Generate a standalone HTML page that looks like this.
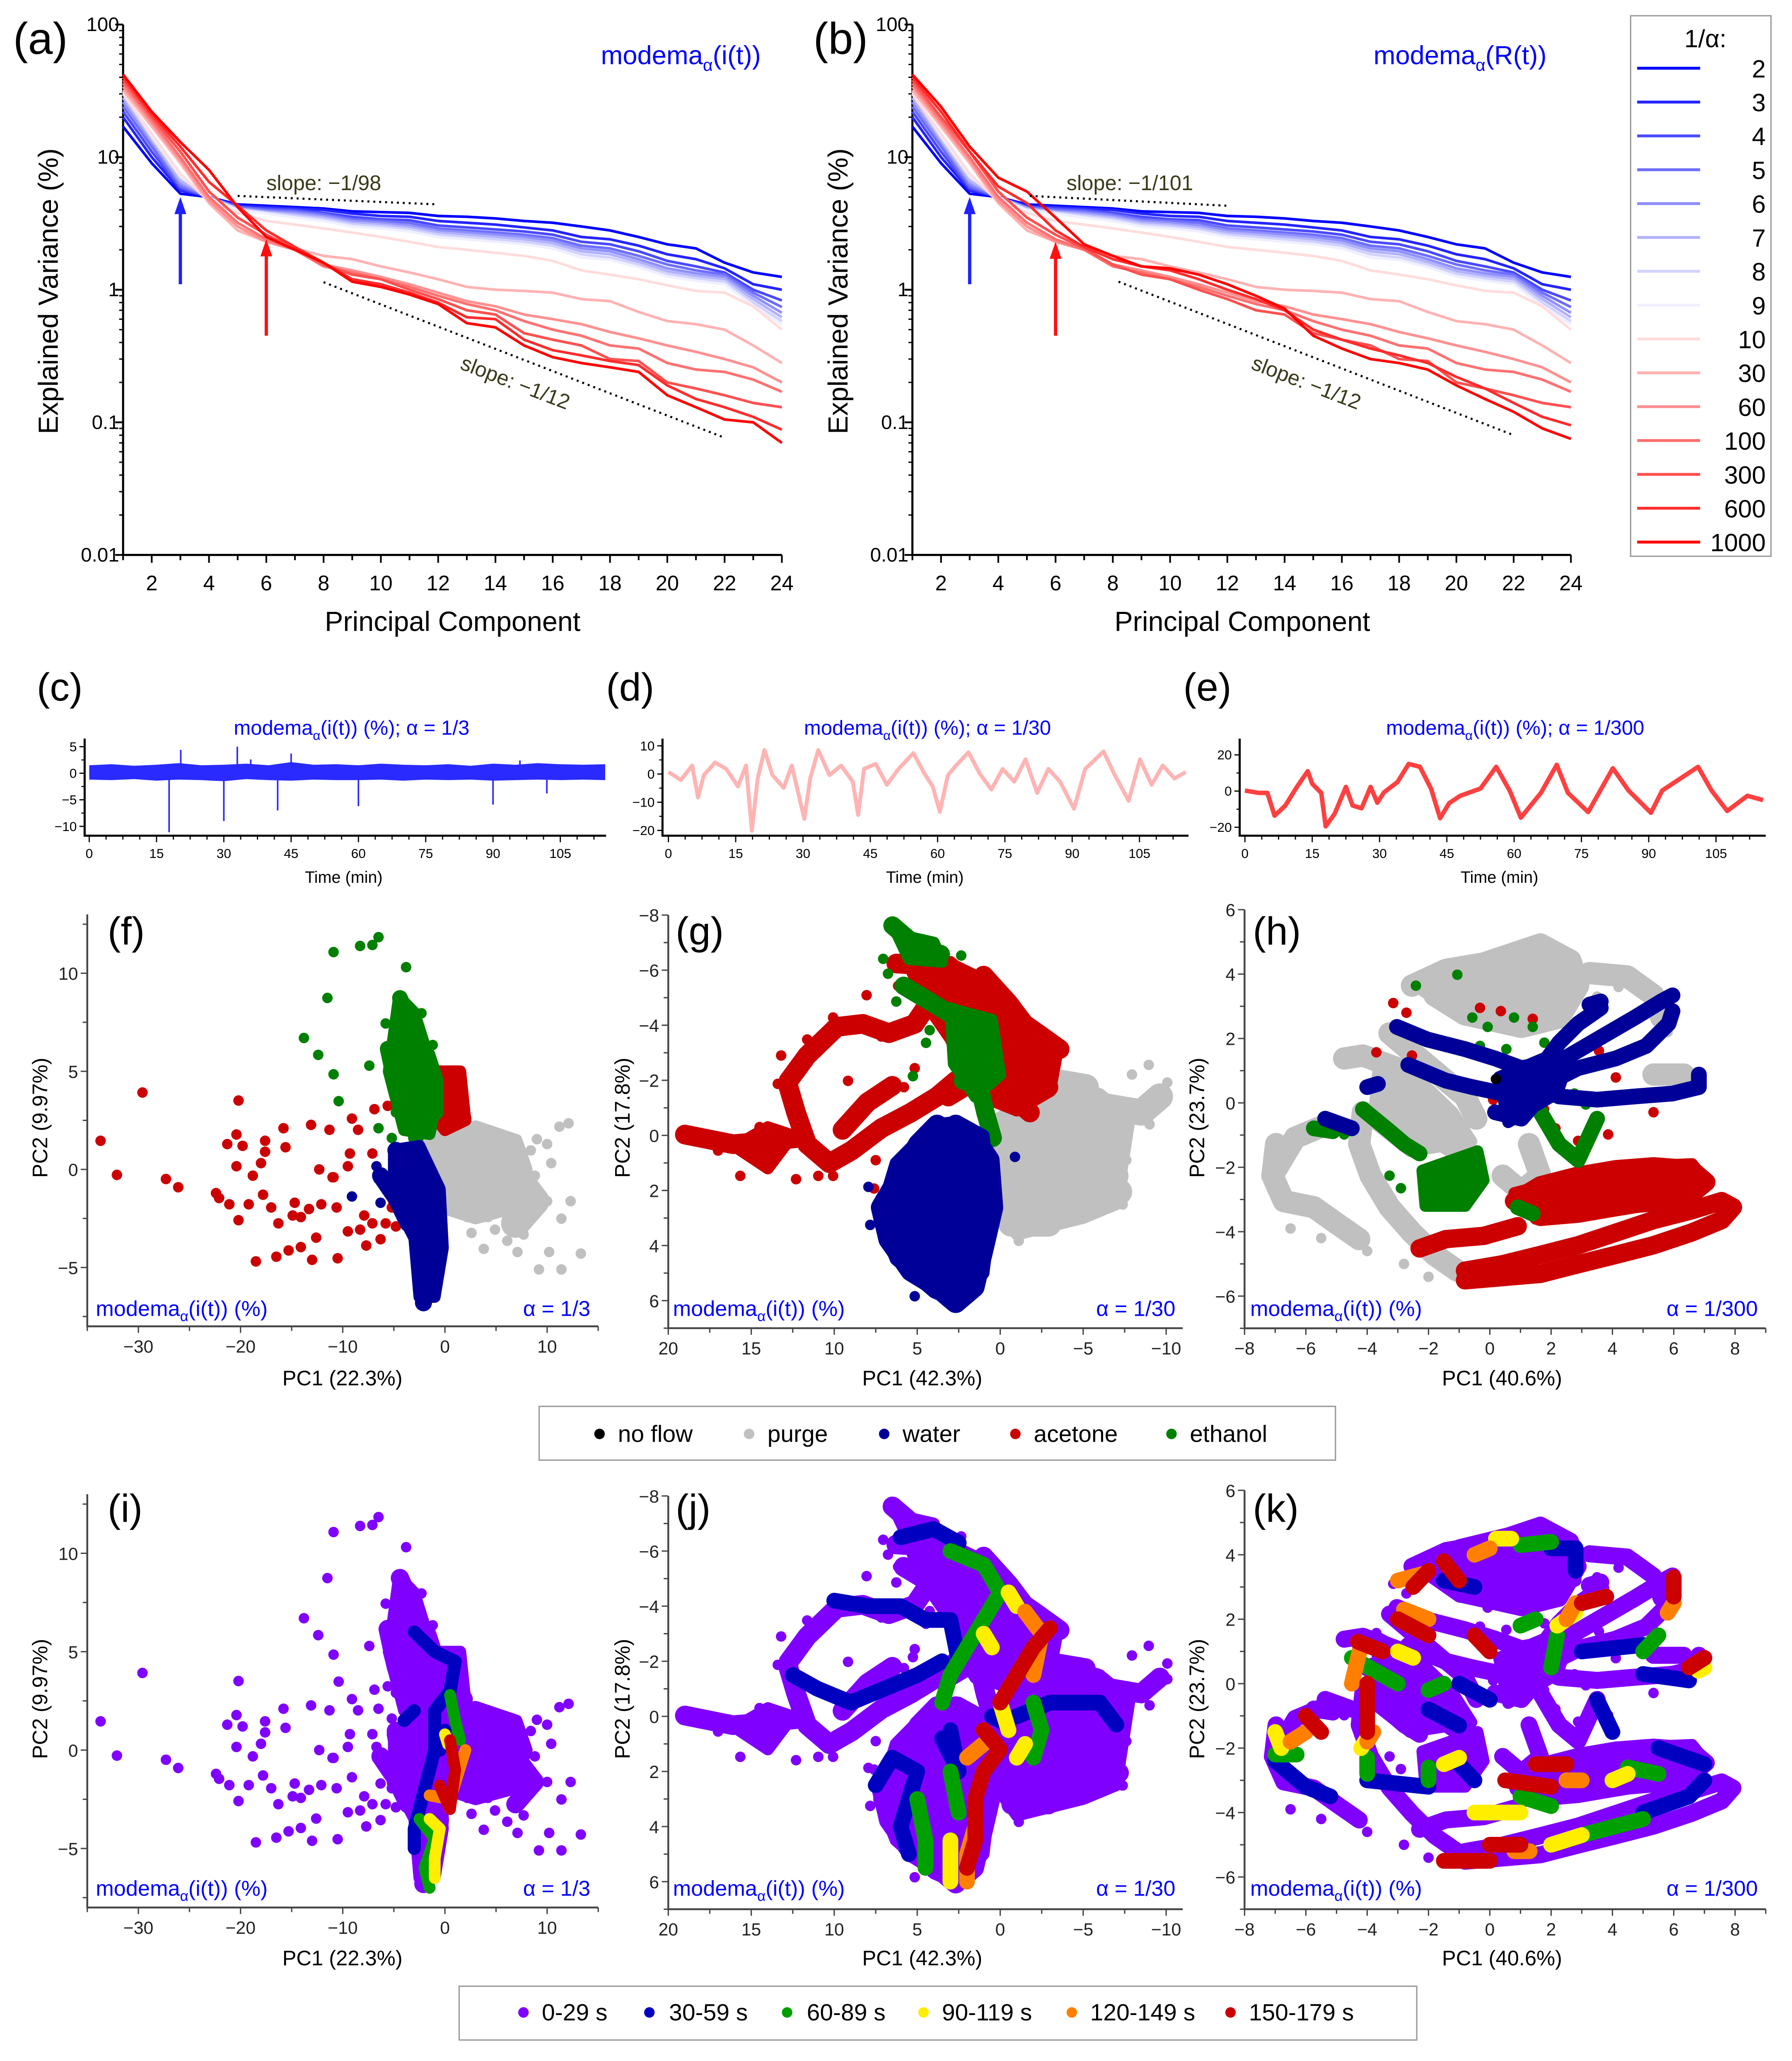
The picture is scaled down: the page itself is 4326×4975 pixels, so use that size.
<!DOCTYPE html>
<html><head><meta charset="utf-8"><title>PCA modema figure</title>
<style>
html,body{margin:0;padding:0;background:#fff;}
svg{display:block;font-family:"Liberation Sans",sans-serif;}
</style></head>
<body>
<svg id="fig" xmlns="http://www.w3.org/2000/svg" width="4326" height="4975" viewBox="0 0 1366 1571">
<rect x="0" y="0" width="1366" height="1571" fill="#fff"/>
<g font-size="34" fill="#000">
<text x="10" y="41">(a)</text>
<text x="620" y="41">(b)</text>
<text x="28" y="534" font-size="30">(c)</text>
<text x="462" y="534" font-size="30">(d)</text>
<text x="902" y="534" font-size="30">(e)</text>
<text x="82" y="720" font-size="30">(f)</text>
<text x="515" y="720" font-size="30">(g)</text>
<text x="955" y="720" font-size="30">(h)</text>
<text x="82" y="1160" font-size="30">(i)</text>
<text x="515" y="1160" font-size="30">(j)</text>
<text x="955" y="1160" font-size="30">(k)</text>
</g>
<text x="458" y="49" font-size="20" fill="#0000ff">modema<tspan font-size="13" dy="5">α</tspan><tspan dy="-5">(i(t))</tspan></text>
<text x="1047" y="49" font-size="20" fill="#0000ff">modema<tspan font-size="13" dy="5">α</tspan><tspan dy="-5">(R(t))</tspan></text>
<text transform="translate(44,222) rotate(-90)" text-anchor="middle" font-size="21">Explained Variance (%)</text>
<text transform="translate(646,222) rotate(-90)" text-anchor="middle" font-size="21">Explained Variance (%)</text>
<text x="345" y="481" text-anchor="middle" font-size="21">Principal Component</text>
<text x="947" y="481" text-anchor="middle" font-size="21">Principal Component</text>
<text x="203" y="145" font-size="16" fill="#3a3a1a">slope: −1/98</text>
<text transform="translate(350,281) rotate(21)" font-size="16" fill="#3a3a1a">slope: −1/12</text>
<text x="813" y="145" font-size="16" fill="#3a3a1a">slope: −1/101</text>
<text transform="translate(953,281) rotate(21)" font-size="16" fill="#3a3a1a">slope: −1/12</text>
<g>
<rect x="1243" y="12" width="107" height="412" fill="#fff" stroke="#999" stroke-width="1"/>
<text x="1300" y="36" text-anchor="middle" font-size="19">1/α:</text>
</g>
<text x="268" y="560" text-anchor="middle" font-size="15.5" fill="#0000ff">modema<tspan font-size="10" dy="4">α</tspan><tspan dy="-4">(i(t)) (%); α = 1/3</tspan></text>
<text x="707" y="560" text-anchor="middle" font-size="15.5" fill="#0000ff">modema<tspan font-size="10" dy="4">α</tspan><tspan dy="-4">(i(t)) (%); α = 1/30</tspan></text>
<text x="1155" y="560" text-anchor="middle" font-size="15.5" fill="#0000ff">modema<tspan font-size="10" dy="4">α</tspan><tspan dy="-4">(i(t)) (%); α = 1/300</tspan></text>
<text x="262" y="673" text-anchor="middle" font-size="12.5">Time (min)</text>
<text x="705" y="673" text-anchor="middle" font-size="12.5">Time (min)</text>
<text x="1143" y="673" text-anchor="middle" font-size="12.5">Time (min)</text>
<g font-size="16">
<text x="261" y="1056" text-anchor="middle">PC1 (22.3%)</text>
<text x="703" y="1056" text-anchor="middle">PC1 (42.3%)</text>
<text x="1145" y="1056" text-anchor="middle">PC1 (40.6%)</text>
<text x="261" y="1498" text-anchor="middle">PC1 (22.3%)</text>
<text x="703" y="1498" text-anchor="middle">PC1 (42.3%)</text>
<text x="1145" y="1498" text-anchor="middle">PC1 (40.6%)</text>
<text transform="translate(36,852) rotate(-90)" text-anchor="middle">PC2 (9.97%)</text>
<text transform="translate(480,852) rotate(-90)" text-anchor="middle">PC2 (17.8%)</text>
<text transform="translate(918,852) rotate(-90)" text-anchor="middle">PC2 (23.7%)</text>
<text transform="translate(36,1295) rotate(-90)" text-anchor="middle">PC2 (9.97%)</text>
<text transform="translate(480,1295) rotate(-90)" text-anchor="middle">PC2 (17.8%)</text>
<text transform="translate(918,1295) rotate(-90)" text-anchor="middle">PC2 (23.7%)</text>
</g>
<g id="marks"></g>
<g font-size="16.5" fill="#0000ff">
<text x="73" y="1003">modema<tspan font-size="11" dy="4">α</tspan><tspan dy="-4">(i(t)) (%)</tspan></text>
<text x="450" y="1003" text-anchor="end">α = 1/3</text>
<text x="513" y="1003">modema<tspan font-size="11" dy="4">α</tspan><tspan dy="-4">(i(t)) (%)</tspan></text>
<text x="896" y="1003" text-anchor="end">α = 1/30</text>
<text x="953" y="1003">modema<tspan font-size="11" dy="4">α</tspan><tspan dy="-4">(i(t)) (%)</tspan></text>
<text x="1340" y="1003" text-anchor="end">α = 1/300</text>
<text x="73" y="1445">modema<tspan font-size="11" dy="4">α</tspan><tspan dy="-4">(i(t)) (%)</tspan></text>
<text x="450" y="1445" text-anchor="end">α = 1/3</text>
<text x="513" y="1445">modema<tspan font-size="11" dy="4">α</tspan><tspan dy="-4">(i(t)) (%)</tspan></text>
<text x="896" y="1445" text-anchor="end">α = 1/30</text>
<text x="953" y="1445">modema<tspan font-size="11" dy="4">α</tspan><tspan dy="-4">(i(t)) (%)</tspan></text>
<text x="1340" y="1445" text-anchor="end">α = 1/300</text>
</g>
<g font-size="18">
<rect x="411" y="1072" width="607" height="41" fill="#fff" stroke="#999"/>
<circle cx="457" cy="1093" r="4" fill="#000"/><text x="471" y="1099">no flow</text>
<circle cx="571" cy="1093" r="4" fill="#c0c0c0"/><text x="585" y="1099">purge</text>
<circle cx="674" cy="1093" r="4" fill="#000099"/><text x="688" y="1099">water</text>
<circle cx="774" cy="1093" r="4" fill="#cc0000"/><text x="788" y="1099">acetone</text>
<circle cx="893" cy="1093" r="4" fill="#008000"/><text x="907" y="1099">ethanol</text>
</g>
<g font-size="18">
<rect x="350" y="1514" width="730" height="41" fill="#fff" stroke="#999"/>
<circle cx="399" cy="1534" r="4" fill="#8000ff"/><text x="413" y="1540">0-29 s</text>
<circle cx="495" cy="1534" r="4" fill="#0000c0"/><text x="510" y="1540">30-59 s</text>
<circle cx="600" cy="1534" r="4" fill="#00a000"/><text x="615" y="1540">60-89 s</text>
<circle cx="704" cy="1534" r="4" fill="#ffee00"/><text x="718" y="1540">90-119 s</text>
<circle cx="817" cy="1534" r="4" fill="#ff8000"/><text x="831" y="1540">120-149 s</text>
<circle cx="938" cy="1534" r="4" fill="#cc0000"/><text x="952" y="1540">150-179 s</text>
</g>
</svg>
<script>
const alphaLabels = ["2","3","4","5","6","7","8","9","10","30","60","100","300","600","1000"];
const alphaColors = ["#0000ff","#2424ff","#4a4aff","#6e6eff","#9090ff","#b2b2ff","#d2d2ff","#efefff","#ffdcdc","#ffb2b2","#ff9090","#ff7070","#ff5050","#ff2c2c","#ff0000"];
const b2 = [17,9,5.3,5.0,4.4,4.3,4.2,4.1,3.9,3.85,3.8,3.6,3.55,3.45,3.3,3.2,3.0,2.8,2.5,2.2,2.05,1.6,1.35,1.25];
const b3 = [20,10,5.6,5.0,4.3,4.2,4.1,4.0,3.75,3.6,3.55,3.3,3.2,3.1,2.95,2.8,2.5,2.4,2.15,1.85,1.7,1.45,1.1,1.0];
const b4 = [22,11,5.8,5.0,4.2,4.1,4.0,3.8,3.55,3.4,3.35,3.05,2.95,2.85,2.75,2.6,2.3,2.2,1.95,1.65,1.5,1.35,1.0,0.83];
const b5 = [24,12,6.0,5.0,4.2,4.0,3.9,3.7,3.4,3.3,3.2,2.9,2.8,2.7,2.6,2.45,2.15,2.05,1.8,1.55,1.4,1.3,0.95,0.74];
const b6 = [26,13,6.3,5.0,4.1,3.9,3.8,3.6,3.3,3.2,3.05,2.8,2.7,2.6,2.5,2.35,2.05,1.95,1.7,1.45,1.33,1.25,0.9,0.67];
const b7 = [28,13.5,6.6,5.0,4.1,3.85,3.7,3.5,3.2,3.1,2.95,2.7,2.6,2.5,2.4,2.25,1.95,1.85,1.62,1.38,1.27,1.2,0.85,0.62];
const b8 = [30,14,7.0,5.0,4.0,3.8,3.6,3.4,3.1,3.0,2.85,2.6,2.5,2.4,2.3,2.15,1.85,1.75,1.55,1.32,1.22,1.15,0.8,0.58];
const b9 = [31,14.5,7.2,4.9,4.0,3.75,3.5,3.3,3.0,2.9,2.75,2.5,2.4,2.3,2.2,2.05,1.75,1.68,1.48,1.26,1.17,1.1,0.76,0.55];
const r10 = [30,15,7.5,4.6,3.8,3.3,3.1,2.9,2.7,2.5,2.3,2.1,2.0,1.9,1.8,1.65,1.4,1.3,1.2,1.08,0.98,0.95,0.75,0.5];
const r30 = [32,17,9,4.5,2.8,2.3,2.05,1.8,1.7,1.5,1.35,1.2,1.05,1.0,0.98,0.95,0.85,0.82,0.68,0.58,0.55,0.5,0.38,0.28];
const r60 = [34,18,9.5,4.7,3.0,2.3,2.0,1.55,1.4,1.25,1.1,0.95,0.82,0.75,0.65,0.6,0.55,0.48,0.43,0.38,0.34,0.3,0.26,0.2];
const r100 = [36,19,10,5,3.2,2.4,2.0,1.5,1.35,1.2,1.05,0.9,0.78,0.7,0.58,0.5,0.45,0.38,0.36,0.28,0.25,0.24,0.21,0.17];
const r300 = [38,20,11,5.5,3.5,2.6,2.05,1.55,1.3,1.2,1.0,0.85,0.7,0.65,0.47,0.42,0.38,0.3,0.29,0.2,0.18,0.16,0.14,0.13];
const r600 = [40,21,12,6.5,4.3,2.8,2.1,1.6,1.2,1.1,0.95,0.8,0.62,0.6,0.42,0.35,0.32,0.29,0.27,0.19,0.15,0.13,0.11,0.088];
const r1000 = [42,22,13,8,4.2,2.5,2.0,1.6,1.15,1.05,0.92,0.78,0.56,0.52,0.38,0.31,0.28,0.26,0.24,0.16,0.13,0.105,0.1,0.07];
const r600B = [40,22,11,6,4.5,2.8,2.1,1.7,1.5,1.4,1.2,1.0,0.85,0.7,0.5,0.42,0.36,0.32,0.28,0.22,0.18,0.14,0.11,0.095];
const r1000B = [42,24,12,7,5.5,3.5,2.2,1.8,1.5,1.45,1.3,1.1,0.9,0.72,0.45,0.36,0.3,0.28,0.25,0.19,0.15,0.12,0.09,0.075];
const seriesA = [b2,b3,b4,b5,b6,b7,b8,b9,r10,r30,r60,r100,r300,r600,r1000];
const seriesB = [b2,b3,b4,b5,b6,b7,b8,b9,r10,r30,r60,r100,r300,r600B,r1000B];
const logTicks = [100,10,1,0.1,0.01];
const logTickLabels = ["100","10","1","0.1","0.01"];
const pcTicks = [2,4,6,8,10,12,14,16,18,20,22,24];
const slopeA1 = [[5,5.1],[12,4.4]];
const slopeA2 = [[8,1.14],[21.9,0.078]];
const slopeB1 = [[5.1,5.1],[12,4.3]];
const slopeB2 = [[8.2,1.15],[22,0.08]];
const arrowsA = [[3,1.1,5.0,"#2020ff"],[6,0.45,2.4,"#ff1010"]];
const arrowsB = [[3,1.1,5.0,"#2020ff"],[6,0.45,2.3,"#ff1010"]];

const cTimes = [0,5,10,15,20,25,30,35,40,45,50,55,60,65,70,75,80,85,90,95,100,105,110,115];
const cHi = [1.5,1.7,1.4,1.6,1.9,1.5,1.6,1.8,1.5,2.1,1.6,1.7,1.5,1.8,1.6,1.5,1.7,1.4,1.8,1.6,1.9,1.7,1.6,1.7];
const cLo = [-1.2,-1.3,-1.1,-1.4,-1.2,-1.3,-1.5,-1.1,-1.3,-1.4,-1.2,-1.3,-1.3,-1.2,-1.4,-1.2,-1.3,-1.2,-1.4,-1.3,-1.2,-1.3,-1.2,-1.3];
const cSpikeT = [17.8,20.4,30.0,33.0,36.0,42.0,45.0,60.0,90.0,96.0,102.0];
const cSpikeV = [-11.1,4.4,-9.0,5.0,2.6,-7.0,3.7,-6.2,-5.9,2.4,-3.8];
const dT = [0,2.8,5.3,6.6,7.9,10.4,12.9,15.5,17.3,18.6,19.9,21.4,23.2,25.7,27.5,30.3,31.6,33.4,35.9,38.5,41.1,42.3,43.6,46.2,48.7,51.3,54.6,57.1,58.9,60.5,62.3,64.1,66.9,69.4,72.0,74.5,77.1,79.6,82.2,84.7,87.3,90.4,92.9,97.0,99.5,102.6,105.1,107.7,110.2,112.8,115.3];
const dV = [0.7,-2.1,3.0,-8.3,-0.4,4.1,1.8,-4.4,3.0,-20.1,-1.6,8.5,-0.4,-4.9,3.0,-15.9,-1.6,8.5,-0.4,3.0,-2.7,-14.5,1.8,3.6,-3.8,1.8,7.4,0.1,-4.4,-13.4,-0.4,3.0,7.7,0.1,-5.5,1.8,-2.7,5.2,-6.7,1.8,-2.7,-12.3,1.8,8.0,-0.4,-9.5,5.2,-3.8,3.0,-1.6,0.7];
const eT = [0,3,5,6.6,9,11.5,14,15,17,18,20,22.5,24,26,28,29.5,31,34,36.5,39,41.5,43.5,45.5,48,52.5,56,59,61.5,66,69.5,72,76.5,82,85.5,90.5,93,101,104,107.5,112,115.5];
const eV = [0.3,-1,-1,-13.6,-8,2,11,4,-1,-19.5,-12.5,2.3,-8,-9.5,2.3,-6.4,-0.7,5,15,13.4,1.2,-15,-6.7,-2.6,1.4,13.4,0.3,-14.7,-0.9,14.5,-1,-11.6,12.6,0.3,-12,0.3,13.4,0.3,-11,-2.6,-5];
const timeTicks = [0,15,30,45,60,75,90,105];

// (f)
const fRedPts = [[-33.7,1.46],[-32.1,-0.28],[-29.6,3.92],[-27.3,-0.49],[-26.1,-0.91],[-20.2,3.51],[-22.1,-1.46],[-22.4,-1.21],[-21.1,-1.78],[-20.2,-2.59],[-19.2,-1.78],[-20.4,1.78],[-21.3,1.29],[-20.4,0.16],[-18.8,-0.32],[-17.8,-1.29],[-17.6,1.46],[-18.0,0.32],[-17.0,-1.94],[-16.3,-2.75],[-15.8,2.10],[-15.6,1.13],[-14.7,-1.70],[-14.9,-2.35],[-14.1,-2.43],[-13.3,-2.02],[-12.6,-3.48],[-12.3,0],[-12.1,-1.78],[-13.1,2.27],[-11.3,2.02],[-11.0,-0.40],[-10.6,-1.94],[-14.1,-3.96],[-15.3,-4.13],[-16.5,-4.45],[-18.5,-4.69],[-13.0,-4.61],[-10.5,-4.53],[-9.5,0.16],[-9.3,0.81],[-9.1,2.59],[-8.5,2.02],[-9.5,-3.16],[-8.3,-3.07],[-7.9,-2.35],[-7.7,-3.88],[-7.1,-2.75],[-6.3,-3.56],[-6.9,3.07],[-6.3,-0.16],[-7.1,0.81],[-5.6,3.24],[-5.8,-2.75],[-5.2,-1.94],[-4.8,-2.91],[-4.0,-2.43],[-2.8,-2.10],[-5.2,-0.65],[-4.0,0],[-10.9,-0.4],[-17.6,0.9],[-19.8,1.2]];
const fRedTrails = [[[-0.9,4.85],[1.05,4.53],[1.4,3.24],[-0.1,2.27]],[[-1.7,3.72],[0.66,2.91],[1.83,2.59]],[[-4.8,0.81],[-4.4,-0.32],[-4.8,-1.62]]];
const fRedBlobs = [[[-1.5,5],[1.5,5],[2,2.5],[0,2],[-1.5,3]]];
const fGreenPts = [[-10.9,11.08],[-8.3,11.39],[-7.1,11.44],[-6.5,11.84],[-3.8,10.31],[-11.5,8.74],[-13.8,6.70],[-12.4,5.84],[-10.9,4.85],[-10.4,3.48],[-6.5,2.10],[-7.4,5.29],[-5.8,7.44],[-2.3,7.96],[-1.2,6.34],[-4.8,2.91],[-5.2,1.6]];
const fGreenTrails = [[[-4.4,8.74],[-3.2,7.28],[-3.2,5.83],[-2.45,4.21],[-2.45,2.59],[-2.84,1.62]],[[-5.6,6.15],[-4.8,4.21],[-3.6,2.91]],[[-1.7,5.83],[-0.9,4.53],[-0.9,2.91]]];
const fGreenBlobs = [[[-4.5,8.8],[-3,8],[-1.5,5.5],[-0.8,3.5],[-1.5,1.8],[-4,2],[-5.5,5]]];
const fBluePts = [[-9.1,-1.38],[-6.5,-0.49],[-6.7,0.16],[-6.3,-1.7],[-5.5,-0.9]];
const fBlueTrails = [[[-4.8,0.97],[-3.6,-0.32],[-2.1,-1.94],[-1.7,-4.37],[-2.1,-6.80]],[[-2.8,0.81],[-0.9,-1.13],[-0.5,-3.56],[-1.3,-5.99]],[[-6.3,-0.32],[-4.8,-1.46],[-3.6,-2.75]]];
const fBlueBlobs = [[[-5,1],[-2.5,1.2],[-0.5,-1],[-0.2,-4],[-1,-6.5],[-2.5,-6.5],[-3,-3.5],[-5,-1.5]]];
const fGrayPts = [[12.1,2.35],[11.2,2.18],[10.0,1.29],[9.0,1.54],[10.4,0.32],[8.8,-0.32],[10.0,-1.62],[12.3,-1.62],[11.4,-2.51],[13.3,-4.29],[10.2,-4.21],[9.2,-5.10],[11.4,-5.10],[7.1,-4.21],[6.1,-3.64],[7.7,-3.32],[3.8,-4.05],[4.9,-3.07],[2.6,-3.24],[2.2,-2.43],[4.2,-2.43],[7.3,-1.62],[8.4,-1.13],[5.7,1.62],[8.4,0.97],[3.8,1.94]];
const fGrayTrails = [[[-1.7,1.29],[3.0,1.62],[6.1,0.49],[4.9,-1.13],[1.05,-1.62],[-0.9,-0.32],[2.5,0.3]],[[3.0,0.49],[6.9,-0.32],[8.8,-1.62],[6.9,-2.75]]];
const fGrayBlobs = [[[-2,1.5],[3,2.2],[7,1.5],[8,0],[6.5,-2],[3,-2.5],[0,-2],[-1.5,-0.5]]];
const iBlueTrails = [[[-3,6],[-1,5],[1,4.5],[0.5,3],[-1,2],[-1,0],[-2,-2],[-3,-4],[-3,-5]],[[-0.5,0],[0,1]],[[-4,1.5],[-3,2]]];
const iGreenTrails = [[[0.5,2.8],[1,1.5],[1.5,0.5]],[[-2.5,-3.5],[-1,-4.5],[-2,-6],[-1.5,-7]]];
const iYellowTrails = [[[-1.5,-3.5],[-0.5,-4],[-1,-5.5],[-1,-6.5]],[[0,0.8],[0.3,0.3]]];
const iOrangeTrails = [[[-1.5,-2.3],[0.5,-2.5],[2,0]]];
const iRedTrails = [[[-0.5,-1.8],[0.5,-3],[1,-1],[0.5,0.5]]];

// (g)
const gRedPts = [[8.05,-5.09],[7.16,-3.59],[10.07,-4.28],[11.63,-3.48],[13.2,-2.90],[13.4,-1.87],[10.96,1.47],[12.3,1.59],[10.07,1.47],[15.66,1.47],[13.87,1.01],[17.0,0.55],[7.6,1.93],[7.5,0.90],[4.47,2.62],[3.58,2.10],[1.34,1.30],[9.17,-1.98],[8.7,-0.83],[5.8,-1.75],[5.15,-2.44],[6.15,-5.43],[15.0,0.8],[16.5,0.2],[14.5,-0.3]];
const gRedTrails = [[[19.0,-0.03],[16.1,0.32],[13.9,0.21],[12.3,0.10]],[[12.75,-1.98],[11.63,-2.90],[9.84,-3.94],[8.28,-4.05],[6.71,-3.71],[5.15,-4.05],[4.25,-4.86]],[[12.75,-1.75],[12.3,-0.83],[11.63,0.32],[10.29,1.01],[8.95,0.55],[7.16,-0.26],[5.37,-0.83],[3.80,-1.41],[2.68,-1.98]],[[6.26,-6.24],[3.13,-6.12],[1.57,-5.66],[0.45,-5.09],[-0.89,-4.28],[-2.24,-3.71],[-3.58,-3.13]],[[2.68,-3.71],[0.45,-3.13],[-1.79,-2.44],[-2.91,-1.75]],[[3.13,-1.41],[1.57,-1.98],[-0.67,-1.41],[-1.79,-0.83]],[[1.0,-5.8],[-0.5,-4.8],[-1.5,-4.0]],[[9.5,-0.2],[8,-1.2],[6.5,-1.8]]];
const gRedBlobs = [[[5.5,-6.2],[3,-6.3],[0,-4.8],[-3.5,-3.2],[-3,-1.6],[-1,-0.9],[1.5,-1.5],[3,-3.5],[4.5,-4.8]],[[16,0.4],[14,-0.3],[12.5,0],[14,1.2]]];
const gGreenPts = [[7.05,-6.41],[6.76,-5.87],[6.26,-4.86],[4.25,-3.82],[4.47,-3.36],[5.26,-2.15],[2.35,-6.53],[5.5,-5.2]];
const gGreenTrails = [[[6.49,-7.62],[4.92,-6.81],[3.58,-6.58]],[[5.82,-5.43],[4.25,-4.86],[2.68,-4.28],[1.79,-3.13],[1.34,-1.98],[0.89,-0.83],[0.45,0.09]],[[2.68,-3.48],[1.34,-3.25],[0.45,-2.44],[2.24,-1.98]],[[3.0,-4.5],[1.0,-4.0],[0.6,-3.2]]];
const gGreenBlobs = [[[3,-4.6],[0.5,-4.2],[0,-2.2],[1.5,-1.4],[2.8,-2.6]],[[6.2,-7.3],[4,-7],[3.5,-6.3],[5.5,-6.4]]];
const gBluePts = [[7.83,3.25],[7.94,1.87],[5.15,5.84],[-0.89,0.78]];
const gBlueTrails = [[[3.80,-0.37],[4.92,0.32],[6.04,1.47],[7.16,2.62],[6.71,3.77],[5.37,4.92],[3.80,5.50],[2.68,6.07],[1.57,5.50],[0.89,3.77],[0.45,2.62],[0.67,0.90],[1.57,0.09],[2.68,-0.37]],[[4.47,0.90],[3.80,2.05],[3.13,3.20],[2.68,4.35],[2.01,4.92]],[[3.36,0.32],[1.57,0.90],[1.34,2.05],[2.01,3.20]],[[5.5,2.5],[4.5,3.8],[3.5,4.5]]];
const gBlueBlobs = [[[4,-0.4],[6.3,1],[7.3,3],[6.3,4.5],[4,5.7],[2.5,6.1],[1,5],[0.5,2.5],[1,0],[2.5,-0.5]]];
const gGrayPts = [[-8.95,-2.56],[-10.07,-1.92],[-10.07,-1.35],[-7.94,-2.21],[-1.12,3.83],[0.89,3.54],[-7.38,2.51],[-7.6,0.9],[-9.0,-0.4]];
const gGrayTrails = [[[0.45,-0.26],[-1.79,-0.83],[-4.03,-1.41],[-6.26,-1.06],[-8.50,-0.83],[-9.62,-1.41]],[[0.45,0.90],[-2.91,0.32],[-5.15,0.90],[-6.94,1.47]],[[0.45,2.05],[-1.79,2.62],[-4.03,2.62],[-6.26,2.39],[-7.16,2.05]],[[-0.67,3.20],[-2.91,3.20],[-4.03,1.47],[-1.79,1.24]],[[-2.91,-1.98],[-5.15,-1.75]],[[-3.0,-0.5],[-4.5,0.2],[-6.0,0.5]]];
const gGrayBlobs = [[[0.3,-0.5],[-3,-2.1],[-6,-1.5],[-7.8,-0.6],[-7,2.5],[-5,3],[-1,3.6],[0.3,2.5]]];
const jBlueTrails = [[[6,-6.5],[4,-6.8],[2.5,-6.3]],[[12.5,-1.5],[11,-1],[9,-0.5],[7,-1],[5,-1.5],[3.5,-2]],[[10,-4.2],[8,-4],[6,-4],[4.5,-3.5],[3,-3.5],[2.5,-2]],[[7.5,2.5],[6.5,1.5],[5,2],[6,4],[5.5,5]],[[-1,0],[-3,-0.5],[-6,-0.5],[-7,0.3]],[[0.5,0],[-0.5,0.3]],[[3,0.5],[2.5,2],[3.5,0.8]]];
const jGreenTrails = [[[3,-6],[1,-5.5],[0,-4.5],[1,-3.5],[2,-2.5],[3,-1.5],[3.5,-0.5]],[[5,3],[4.5,4.5],[4.5,5.5]],[[3,2],[2.5,3.5]],[[-2,-0.5],[-2.5,0.5],[-2,1.5]]];
const jYellowTrails = [[[-0.5,-4.5],[-1,-4]],[[1,-3],[0.5,-2.5]],[[0,-0.5],[-0.5,0.5]],[[3,4.5],[3,6]],[[-1,1.5],[-1.5,1]]];
const jOrangeTrails = [[[-1.5,-3.8],[-2.5,-3],[-2,-1.5]],[[2,6],[2,5],[1.5,4]],[[2,1.5],[1,1]]];
const jRedTrails = [[[-3,-3.2],[-2,-2.5],[-1,-1.5],[0,-0.5]],[[1,0.5],[0,1.2],[1,2],[1.5,3],[1.5,4.5],[2,5.5]]];

// (h)
const hGrayTrails = [[[-2.54,3.64],[-1.43,4.13],[-0.20,4.33],[1.65,4.92],[2.63,4.42],[2.88,3.64],[2.26,2.65],[1.03,2.36],[-0.81,2.75],[-1.80,3.34]],[[-0.81,3.64],[1.03,3.83],[2.26,3.64]],[[3.25,4.03],[4.48,3.93],[5.34,3.34],[5.59,2.65]],[[-4.75,1.38],[-4.14,1.47],[-3.03,1.08],[-2.54,0.29],[-2.04,-0.49],[-1.80,-1.08]],[[-6.97,-1.28],[-7.09,-2.26],[-6.72,-3.05],[-5.74,-3.24],[-5.00,-3.74],[-4.26,-4.23]],[[-7.09,-2.26],[-6.35,-1.08],[-5.37,-0.69]],[[-4.14,-0.29],[-4.26,-1.28],[-3.89,-2.26],[-3.27,-3.24],[-2.54,-4.03],[-1.80,-4.72],[-1.06,-5.21]],[[-3.27,2.16],[-2.66,1.67],[-2.04,1.18],[-1.43,0.69],[-0.81,0.20],[-0.44,-0.49]],[[5.34,0.88],[6.33,0.88]],[[0.42,-2.26],[1.03,-2.75],[1.65,-2.26],[1.28,-1.28]],[[-3.0,-0.5],[-1.5,-1.2],[-0.5,-1.8]]];
const hGrayBlobs = [[[-2.5,3.7],[-1,4.3],[1.6,4.9],[2.8,4.3],[2.8,3.2],[1,2.4],[-1,2.7]],[[-3.6,1.4],[-2.4,0.8],[-1.2,-0.3],[-0.6,-1.2],[-2.6,-1.5],[-3.8,-0.6]]];
const hGrayPts = [[-6.5,-3.9],[-5.5,-4.2],[-4.0,-4.6],[-2.8,-5.0],[-2.0,-5.4],[3.5,3.3],[4.2,3.6],[5.8,2.2]];
const hBlueTrails = [[[-3.03,2.36],[-2.04,1.97],[-0.81,1.67],[0.17,1.38],[1.03,1.08],[2.26,1.28],[3.50,1.97],[4.73,2.65],[5.59,3.15],[5.96,3.34]],[[-2.66,1.18],[-1.43,0.69],[-0.57,0.49],[0.42,0.29],[1.65,0.49],[2.88,1.08],[4.11,1.38],[5.10,1.77],[5.83,2.46],[5.96,2.85]],[[1.03,0.69],[2.26,0.20],[3.50,0.10],[4.73,0.20],[5.96,0.29],[6.82,0.49],[6.82,0.88]],[[1.65,1.08],[2.26,1.87],[2.88,2.46],[3.62,2.95]],[[0.17,-0.29],[1.03,-0.49],[1.65,0.20]],[[-5.37,-0.49],[-4.50,-0.79]],[[-4.0,0.49],[-3.65,0.59]],[[3.25,3.05],[3.62,3.15]]];
const hBlueBlobs = [[[0.3,0.8],[1.8,1.4],[2.6,1.4],[2.2,0.3],[0.6,-0.6]]];
const hGreenPts = [[-2.41,3.64],[-1.06,3.98],[-0.07,2.36],[0.79,2.65],[1.40,2.36],[1.78,1.87],[0.54,1.67],[-0.57,2.65],[-0.32,1.77],[1.03,0.79],[2.76,0.29],[3.13,-0.05],[-3.27,-2.26],[-2.90,-2.65],[-4.75,-0.98]];
const hGreenTrails = [[[-4.14,-0.20],[-3.27,-0.88],[-2.78,-1.28],[-2.29,-1.57]],[[-2.04,-2.56],[-1.43,-2.06],[-0.57,-1.77],[-0.32,-2.26],[-0.81,-3.05],[-1.80,-3.05],[-2.04,-2.56]],[[-1.30,-2.26],[-0.81,-2.46]],[[-5.74,-0.79],[-5.12,-0.88]],[[1.65,-0.29],[2.26,-1.28],[2.88,-1.77],[3.50,-0.49]],[[0.91,-3.24],[1.40,-3.44]]];
const hGreenBlobs = [[[-2.2,-2.1],[-0.4,-1.5],[-0.2,-2.4],[-0.8,-3.2],[-2.1,-3.2]]];
const hRedPts = [[-3.15,3.10],[-2.72,2.80],[-3.70,1.57],[-2.54,1.47],[-0.32,2.95],[0.36,2.85],[1.40,2.61],[3.56,1.62],[4.11,0.79],[4.73,0.15],[5.34,-0.29],[0.11,0.10],[1.77,-0.20],[2.14,-0.79],[2.88,-1.18],[3.86,-0.98]];
const hRedTrails = [[[0.79,-3.05],[1.65,-2.56],[2.88,-2.26],[4.11,-2.06],[5.34,-1.97],[6.57,-2.06],[7.06,-2.46],[6.57,-2.85],[5.34,-3.05],[4.11,-3.24],[2.88,-3.44],[1.65,-3.54]],[[-0.81,-5.21],[0.42,-5.01],[1.65,-4.72],[2.88,-4.42],[4.11,-4.03],[5.34,-3.64],[6.57,-3.34],[7.56,-3.05],[7.93,-3.24],[7.56,-3.64],[6.57,-4.03],[5.34,-4.42],[4.11,-4.72],[2.88,-5.01],[1.65,-5.31],[0.42,-5.41],[-0.81,-5.51]],[[-2.29,-4.52],[-1.43,-4.23],[-0.20,-4.13],[0.91,-3.83]],[[1.40,-2.75],[2.88,-2.65],[4.73,-2.65],[6.57,-2.56]]];
const hRedBlobs = [[[0.8,-2.8],[4,-2],[6.6,-1.9],[7.1,-2.5],[6.5,-3.1],[4,-3.3],[1.5,-3.6]]];
const hBlackPts = [[0.2,0.74]];
const kRedTrails = [[[-6,-1],[-5.5,-1.5]],[[-4,0],[-4,-1.5]],[[-2.5,3],[-2,3.5]],[[-3,2],[-2,1.5]],[[-0.5,1.5],[0,1]],[[-4.3,1.3],[-3.5,1]],[[-1.5,3.8],[-1,3.2]],[[1.5,-2.5],[2.5,-2.5]],[[-1.5,-5.5],[0,-5.5]],[[0,-5],[1,-5]],[[6,3.3],[6,2.7]],[[3,2.5],[3.8,2.7]],[[6.5,0.5],[7,0.8]],[[0.5,-3],[2,-3.2]]];
const kOrangeTrails = [[[-6.5,-1.8],[-6,-1.5]],[[-4.5,0],[-4.2,1.2]],[[-3,3.2],[-2.2,3.4]],[[-0.5,4],[0,4.2]],[[-2,2],[-2.8,2.3]],[[0.8,-5.2],[1.3,-5.2]],[[2.5,-3],[3,-3]],[[2.8,2.5],[2.5,2]],[[6,2.5],[5.8,2.2]],[[-3.8,-1.5],[-4,-1.8]]];
const kYellowTrails = [[[-7,-1.5],[-6.8,-2]],[[-4.2,-2],[-4,-1.7]],[[0.2,4.5],[0.7,4.5]],[[2.2,1.8],[2.8,2.2]],[[-0.5,-4],[1,-4]],[[2,-5],[3,-4.7]],[[4,-3],[4.5,-2.8]],[[6.8,0.4],[7,0.5]],[[-1.5,-2.5],[-1,-2.3]],[[-3,1],[-2.5,0.8]]];
const kGreenTrails = [[[-7,-2.2],[-6.3,-2.2]],[[-4,-2.3],[-4,-2.8]],[[1,4.3],[2,4.4]],[[2.2,1.5],[2,0.5]],[[3,-4.7],[5,-4.2]],[[4.5,-2.6],[5.5,-2.8]],[[5.5,1.5],[5,1]],[[-2,-3],[-2,-2.6]],[[1,1.8],[1.5,2]],[[-4.5,0.8],[-3,0]],[[1,-3.5],[2,-3.8]],[[-2,-0.2],[-1.5,0]]];
const kBlueTrails = [[[-7,-2.4],[-6,-3.2],[-5.2,-3.5]],[[-4,-3],[-2,-3.2]],[[-1.5,3.2],[-0.5,3]],[[2,4.2],[2.8,4.2],[2.8,3.5]],[[3,1],[5,1.2]],[[5,0.3],[6.5,0.1]],[[5,-4],[6.5,-3.5],[7,-3]],[[5.5,-2],[7,-2.5]],[[3.5,-0.5],[4,-1.5]],[[-1,0],[0,-0.5]],[[-2,-0.8],[-1,-1.3]],[[-0.5,-3],[-1,-2.5]]];

const NS = 'http://www.w3.org/2000/svg';
const root = document.getElementById('marks');
function mk(tag, attrs, parent){const e=document.createElementNS(NS,tag);for(const k in attrs)e.setAttribute(k,attrs[k]);(parent||root).appendChild(e);return e;}
function fmt(v){return (v<0?'\u2212':'')+Math.abs(v);}

function logPanel(L,R,T,B,series,slope1,slope2,arrows,tag){
  const g=mk('g',{});
  
  
  const x=pc=>L+(pc-1)/23*(R-L);
  const y=v=>T+(2-Math.log10(v))/4*(B-T);
  const ax=mk('path',{d:`M${L},${T}V${B}H${R}`,fill:'none',stroke:'#000','stroke-width':1.6},g);
  
  
  logTicks.forEach((v,i)=>{
    const t=mk('line',{x1:L-6,x2:L,y1:y(v),y2:y(v),stroke:'#000','stroke-width':1.4},g);
    
    
    const lb=mk('text',{x:L-3,y:y(v)+5,'text-anchor':'end','font-size':15},g);
    
    
    lb.textContent=logTickLabels[i];
    if(i<logTicks.length-1){for(let m=2;m<10;m++){const mv=logTicks[i+1]*m;const mt=mk('line',{x1:L-3,x2:L,y1:y(mv),y2:y(mv),stroke:'#000','stroke-width':1},g);
      
      }}
  });
  for(let pc=1;pc<=24;pc++){const major=pcTicks.includes(pc);const t=mk('line',{x1:x(pc),x2:x(pc),y1:B,y2:B+(major?6:4),stroke:'#000','stroke-width':1.3},g);
    
    }
  pcTicks.forEach(pc=>{const lb=mk('text',{x:x(pc),y:B+27,'text-anchor':'middle','font-size':16},g);
    
    
    lb.textContent=pc;});
  series.forEach((s,k)=>{
    const p=mk('polyline',{points:s.map((v,i)=>x(i+1)+','+y(v)).join(' '),fill:'none',stroke:alphaColors[k],'stroke-width':2,'stroke-linejoin':'round'},g);
    
    
  });
  [slope1,slope2].forEach((s,k)=>{const l=mk('line',{x1:x(s[0][0]),y1:y(s[0][1]),x2:x(s[1][0]),y2:y(s[1][1]),stroke:'#000','stroke-width':1.6,'stroke-dasharray':'1.5 3'},g);
    
    });
  arrows.forEach(a=>{const ax0=x(a[0]),y0=y(a[1]),y1=y(a[2]);
    const l=mk('line',{x1:ax0,x2:ax0,y1:y0,y2:y1+10,stroke:a[3],'stroke-width':2.5},g);
    
    
    const h=mk('polygon',{points:`${ax0},${y1} ${ax0-4.5},${y1+13} ${ax0+4.5},${y1+13}`,fill:a[3]},g);
    
    });
}
logPanel(93.8,596,18.7,423,seriesA,slopeA1,slopeA2,arrowsA,'a');
logPanel(695.5,1197.5,18.7,423,seriesB,slopeB1,slopeB2,arrowsB,'b');

alphaLabels.forEach((lab,k)=>{const yy=52+k*25.8;
  const l=mk('line',{x1:1248,x2:1296,y1:yy,y2:yy,stroke:alphaColors[k],'stroke-width':2.2});
  
  
  const t=mk('text',{x:1346,y:yy+7,'text-anchor':'end','font-size':19});
  
  
  t.textContent=lab;});

function tsAxes(L,R,T,B,x0,xs,y0,ys,yt,ym,tag){
  const g=mk('g',{});
  
  
  const a=mk('path',{d:`M${L},${T}V${B}H${R}`,fill:'none',stroke:'#000','stroke-width':1.6},g);
  
  
  for(let t=0;t<=116;t+=3.75){const X=x0+t*xs;if(X>R)break;const major=Math.abs(t/15-Math.round(t/15))<1e-6;
    const tk=mk('line',{x1:X,x2:X,y1:B,y2:B+(major?5:3),stroke:'#000','stroke-width':0.9},g);
    
    }
  timeTicks.forEach(t=>{const lb=mk('text',{x:x0+t*xs,y:B+17,'text-anchor':'middle','font-size':10},g);
    
    
    lb.textContent=t;});
  yt.forEach(v=>{const Y=y0-v*ys;
    const tk=mk('line',{x1:L-4,x2:L,y1:Y,y2:Y,stroke:'#000','stroke-width':0.9},g);
    
    
    const lb=mk('text',{x:L-6,y:Y+3.5,'text-anchor':'end','font-size':10},g);
    
    
    lb.textContent=fmt(v);});
  ym.forEach(v=>{const Y=y0-v*ys;const tk=mk('line',{x1:L-2.5,x2:L,y1:Y,y2:Y,stroke:'#000','stroke-width':0.8},g);
    
    });
  return g;
}
const gc=tsAxes(64.5,462,563,637,68,3.42,589.4,4.05,[5,0,-5,-10],[2.5,-2.5,-7.5],'c');
const gd=tsAxes(505,906,563,637,509.5,3.42,590,2.15,[10,0,-10,-20],[5,-5,-15],'d');
const ge=tsAxes(945,1346,563,637,949,3.42,603,1.38,[20,0,-20],[10,-10],'e');
{const up=cTimes.map((t,i)=>(68+t*3.42)+','+(589.4-cHi[i]*4.05));const lo=cTimes.map((t,i)=>(68+t*3.42)+','+(589.4-cLo[i]*4.05)).reverse();
 const p=mk('polygon',{points:up.concat(lo).join(' '),fill:'#2a2aff'},gc);
 
 
 cSpikeT.forEach((t,i)=>{const l=mk('line',{x1:68+t*3.42,x2:68+t*3.42,y1:589.4,y2:589.4-cSpikeV[i]*4.05,stroke:'#2a2aff','stroke-width':1.2},gc);
  
  });}
{const p=mk('polyline',{points:dT.map((t,i)=>(509.5+t*3.42)+','+(590-dV[i]*2.15)).join(' '),fill:'none',stroke:'#ffb4b4','stroke-width':3,'stroke-linejoin':'round'},gd);
 
 }
{const p=mk('polyline',{points:eT.map((t,i)=>(949+t*3.42)+','+(603-eV[i]*1.38)).join(' '),fill:'none',stroke:'#ff4040','stroke-width':3.4,'stroke-linejoin':'round'},ge);
 
 }

function scatterPanel(c,tag){
  const g=mk('g',{});
  
  
  const sx=v=>c.L+(v-c.x0)/(c.x1-c.x0)*(c.R-c.L);
  const sy=v=>c.T+(v-c.yT)/(c.yB-c.yT)*(c.B-c.T);
  const a=mk('path',{d:`M${c.L},${c.T}V${c.B}H${c.R}`,fill:'none',stroke:'#444','stroke-width':1.4},g);
  
  
  const lo=Math.min(c.x0,c.x1),hi=Math.max(c.x0,c.x1);
  for(let v=Math.ceil(lo/c.xm)*c.xm;v<=hi+1e-9;v+=c.xm){const major=c.xt.some(t=>Math.abs(t-v)<1e-6);
    const tk=mk('line',{x1:sx(v),x2:sx(v),y1:c.B,y2:c.B+(major?5:3.5),stroke:'#444','stroke-width':1},g);
    
    }
  c.xt.forEach(v=>{const lb=mk('text',{x:sx(v),y:c.B+20,'text-anchor':'middle','font-size':13.5,fill:'#222'},g);
    
    
    lb.textContent=fmt(v);});
  const ylo=Math.min(c.yT,c.yB),yhi=Math.max(c.yT,c.yB);
  for(let v=Math.ceil(ylo/c.ymn)*c.ymn;v<=yhi+1e-9;v+=c.ymn){const major=c.yt.some(t=>Math.abs(t-v)<1e-6);
    const tk=mk('line',{x1:c.L-(major?5:3.5),x2:c.L,y1:sy(v),y2:sy(v),stroke:'#444','stroke-width':1},g);
    
    }
  c.yt.forEach(v=>{const lb=mk('text',{x:c.L-7,y:sy(v)+5,'text-anchor':'end','font-size':13.5,fill:'#222'},g);
    
    
    lb.textContent=fmt(v);});
  return {g,sx,sy};
}
function drawPts(P,pts,color,name){pts.forEach(p=>{const e=mk('circle',{cx:P.sx(p[0]),cy:P.sy(p[1]),r:4,fill:color},P.g);
  
  });}
function drawTrails(P,trails,color,w,name){trails.forEach(t=>{const e=mk('polyline',{points:t.map(p=>P.sx(p[0])+','+P.sy(p[1])).join(' '),fill:'none',stroke:color,'stroke-width':w,'stroke-linecap':'round','stroke-linejoin':'round'},P.g);
  
  });}
function drawBlobs(P,blobs,color,name){blobs.forEach(b=>{const e=mk('polygon',{points:b.map(p=>P.sx(p[0])+','+P.sy(p[1])).join(' '),fill:color,stroke:color,'stroke-width':9,'stroke-linejoin':'round'},P.g);
  
  });}

const C={red:'#cc0000',green:'#008000',blue:'#000099',gray:'#c0c0c0',black:'#000'};
const T={p:'#8000ff',b:'#0000c0',g:'#00a000',y:'#ffee00',o:'#ff8000',r:'#cc0000'};
const fCfg=(T0,B0)=>({L:66.5,R:456,T:T0,B:B0,x0:-35,x1:15,yT:13,yB:-8,xt:[-30,-20,-10,0,10],xm:5,yt:[-5,0,5,10],ymn:2.5});
const gCfg=(T0,B0)=>({L:509.4,R:901.6,T:T0,B:B0,x0:20,x1:-11,yT:-8,yB:7,xt:[20,15,10,5,0,-5,-10],xm:2.5,yt:[-8,-6,-4,-2,0,2,4,6],ymn:1});
const hCfg=(T0,B0)=>({L:948.7,R:1346,T:T0,B:B0,x0:-8,x1:9,yT:6,yB:-7,xt:[-8,-6,-4,-2,0,2,4,6,8],xm:1,yt:[-6,-4,-2,0,2,4,6],ymn:1});

{const P=scatterPanel(fCfg(697,1011),'f');
 drawBlobs(P,fGrayBlobs,C.gray,'purge-cloud');drawTrails(P,fGrayTrails,C.gray,22,'purge-trail');drawPts(P,fGrayPts,C.gray,'purge-point');
 drawBlobs(P,fRedBlobs,C.red,'acetone-cloud');drawTrails(P,fRedTrails,C.red,12,'acetone-trail');drawPts(P,fRedPts,C.red,'acetone-point');
 drawBlobs(P,fGreenBlobs,C.green,'ethanol-cloud');drawTrails(P,fGreenTrails,C.green,12,'ethanol-trail');drawPts(P,fGreenPts,C.green,'ethanol-point');
 drawBlobs(P,fBlueBlobs,C.blue,'water-cloud');drawTrails(P,fBlueTrails,C.blue,13,'water-trail');drawPts(P,fBluePts,C.blue,'water-point');}
{const P=scatterPanel(gCfg(697.5,1012.4),'g');
 drawBlobs(P,gGrayBlobs,C.gray,'purge-cloud');drawTrails(P,gGrayTrails,C.gray,20,'purge-trail');drawPts(P,gGrayPts,C.gray,'purge-point');
 drawBlobs(P,gRedBlobs,C.red,'acetone-cloud');drawTrails(P,gRedTrails,C.red,15,'acetone-trail');drawPts(P,gRedPts,C.red,'acetone-point');
 drawBlobs(P,gGreenBlobs,C.green,'ethanol-cloud');drawTrails(P,gGreenTrails,C.green,14,'ethanol-trail');drawPts(P,gGreenPts,C.green,'ethanol-point');
 drawBlobs(P,gBlueBlobs,C.blue,'water-cloud');drawTrails(P,gBlueTrails,C.blue,16,'water-trail');drawPts(P,gBluePts,C.blue,'water-point');}
{const P=scatterPanel(hCfg(693.4,1012.5),'h');
 drawBlobs(P,hGrayBlobs,C.gray,'purge-cloud');drawTrails(P,hGrayTrails,C.gray,17,'purge-trail');drawPts(P,hGrayPts,C.gray,'purge-point');
 drawBlobs(P,hRedBlobs,C.red,'acetone-cloud');drawTrails(P,hRedTrails,C.red,14,'acetone-trail');drawPts(P,hRedPts,C.red,'acetone-point');
 drawBlobs(P,hGreenBlobs,C.green,'ethanol-cloud');drawTrails(P,hGreenTrails,C.green,12,'ethanol-trail');drawPts(P,hGreenPts,C.green,'ethanol-point');
 drawBlobs(P,hBlueBlobs,C.blue,'water-cloud');drawTrails(P,hBlueTrails,C.blue,12,'water-trail');drawPts(P,hBlackPts,C.black,'no-flow-point');}
{const P=scatterPanel(fCfg(1139,1454),'i');
 drawBlobs(P,fGrayBlobs.concat(fRedBlobs,fGreenBlobs,fBlueBlobs),T.p,'bin-0-29-cloud');
 drawTrails(P,fGrayTrails.concat(fRedTrails,fGreenTrails,fBlueTrails),T.p,14,'bin-0-29-trail');
 drawPts(P,fGrayPts.concat(fRedPts,fGreenPts,fBluePts),T.p,'bin-0-29-point');
 drawTrails(P,iBlueTrails,T.b,10,'bin-30-59-trail');drawTrails(P,iGreenTrails,T.g,9,'bin-60-89-trail');
 drawTrails(P,iYellowTrails,T.y,9,'bin-90-119-trail');drawTrails(P,iOrangeTrails,T.o,9,'bin-120-149-trail');drawTrails(P,iRedTrails,T.r,9,'bin-150-179-trail');}
{const P=scatterPanel(gCfg(1140.3,1455.3),'j');
 drawBlobs(P,gGrayBlobs.concat(gRedBlobs,gGreenBlobs,gBlueBlobs),T.p,'bin-0-29-cloud');
 drawTrails(P,gGrayTrails.concat(gRedTrails,gGreenTrails,gBlueTrails),T.p,15,'bin-0-29-trail');
 drawPts(P,gGrayPts.concat(gRedPts,gGreenPts,gBluePts),T.p,'bin-0-29-point');
 drawTrails(P,jBlueTrails,T.b,12,'bin-30-59-trail');drawTrails(P,jGreenTrails,T.g,12,'bin-60-89-trail');
 drawTrails(P,jYellowTrails,T.y,12,'bin-90-119-trail');drawTrails(P,jOrangeTrails,T.o,12,'bin-120-149-trail');drawTrails(P,jRedTrails,T.r,12,'bin-150-179-trail');}
{const P=scatterPanel(hCfg(1136,1455.3),'k');
 drawBlobs(P,hGrayBlobs.concat(hRedBlobs,hGreenBlobs,hBlueBlobs),T.p,'bin-0-29-cloud');
 drawTrails(P,hGrayTrails.concat(hRedTrails,hGreenTrails,hBlueTrails),T.p,13,'bin-0-29-trail');
 drawPts(P,hGrayPts.concat(hRedPts,hGreenPts),T.p,'bin-0-29-point');
 drawTrails(P,kBlueTrails,T.b,12,'bin-30-59-trail');drawTrails(P,kGreenTrails,T.g,12,'bin-60-89-trail');
 drawTrails(P,kYellowTrails,T.y,12,'bin-90-119-trail');drawTrails(P,kOrangeTrails,T.o,12,'bin-120-149-trail');drawTrails(P,kRedTrails,T.r,12,'bin-150-179-trail');}
</script>
</body></html>
